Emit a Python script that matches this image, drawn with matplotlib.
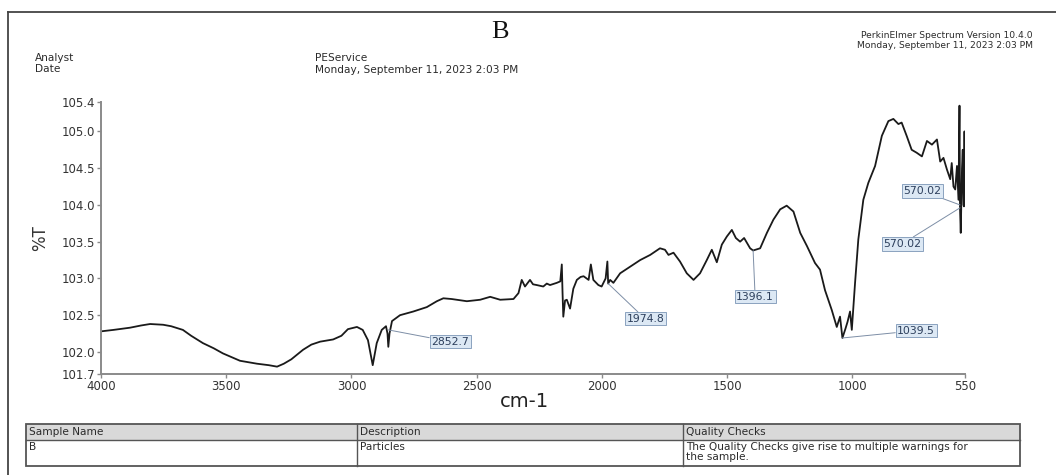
import matplotlib
matplotlib.use("Agg")
import matplotlib.pyplot as plt
from matplotlib.patches import Rectangle

plt.rcParams['font.family'] = ['DejaVu Sans']

# FT-IR spectrum of sample B (wavenumber in cm-1, transmittance in %T)
wavenumber = [
    4000, 3950, 3884, 3840, 3804, 3752, 3720, 3673, 3640, 3593, 3550, 3513,
    3445, 3377, 3330, 3297, 3270, 3240, 3193, 3160, 3125, 3090, 3073, 3040,
    3014, 2978, 2955, 2934, 2922, 2915, 2908, 2899, 2879, 2862, 2856, 2852.7,
    2848, 2838, 2806, 2753, 2699, 2659, 2633, 2600, 2579, 2539, 2486, 2446,
    2406, 2353, 2333, 2320, 2307, 2287, 2275, 2260, 2234, 2220, 2207, 2180,
    2166, 2160, 2157, 2154, 2147, 2140, 2127, 2114, 2100, 2085, 2073, 2053,
    2044, 2034, 2014, 2001, 1985, 1978, 1974.8, 1967, 1954, 1927, 1887,
    1847, 1807, 1768, 1748, 1734, 1714, 1688, 1661, 1634, 1608, 1581, 1561,
    1541, 1521, 1501, 1481, 1465, 1448, 1432, 1408, 1396.1, 1368, 1341, 1315,
    1288, 1262, 1235, 1208, 1181, 1149, 1129, 1109, 1082, 1062, 1049, 1039.5,
    1027, 1019, 1009, 1002, 989, 976, 956, 936, 909, 882, 856, 836, 816, 803,
    783, 763, 743, 722, 702, 682, 662, 649, 636, 622, 609, 603, 596, 589, 582,
    576, 572, 570.02, 567, 562, 559, 556, 554, 552, 550,
]
transmittance = [
    102.28, 102.30, 102.33, 102.36, 102.38, 102.37, 102.35, 102.30, 102.22,
    102.12, 102.05, 101.98, 101.88, 101.84, 101.82, 101.80, 101.84, 101.90,
    102.03, 102.10, 102.14, 102.16, 102.17, 102.22, 102.31, 102.34, 102.30,
    102.16, 101.95, 101.82, 101.95, 102.12, 102.30, 102.35, 102.25, 102.07,
    102.25, 102.42, 102.50, 102.55, 102.61, 102.69, 102.73, 102.72, 102.71,
    102.69, 102.71, 102.75, 102.71, 102.72, 102.80, 102.98, 102.89, 102.98,
    102.92, 102.91, 102.89, 102.93, 102.91, 102.94, 102.96, 103.19, 102.80,
    102.48, 102.70, 102.71, 102.59, 102.86, 102.98, 103.02, 103.03, 102.98,
    103.19, 102.98, 102.91, 102.89, 103.00, 103.23, 102.93, 102.98, 102.94,
    103.07, 103.16, 103.25, 103.32, 103.41, 103.39, 103.32, 103.35, 103.23,
    103.07, 102.98, 103.07, 103.25, 103.39, 103.22, 103.46, 103.57, 103.66,
    103.55, 103.50, 103.55, 103.41, 103.38, 103.41, 103.62, 103.80, 103.94,
    103.99, 103.91, 103.62, 103.44, 103.21, 103.12, 102.84, 102.57, 102.34,
    102.48, 102.19, 102.32, 102.41, 102.55, 102.30, 102.94, 103.53, 104.07,
    104.30, 104.53, 104.94, 105.14, 105.17, 105.10, 105.12, 104.94, 104.75,
    104.71, 104.66, 104.87, 104.82, 104.89, 104.59, 104.64, 104.48, 104.35,
    104.57, 104.25, 104.21, 104.53, 104.07, 105.35, 103.97, 103.62, 104.50,
    104.75, 104.00, 103.98, 105.00, 104.00,
]

# Peak labels: leader start on the trace and label centre, both in data units
peak_text = ["2852.7", "1974.8", "1396.1", "1039.5", "570.02", "570.02"]
peak_x = [2852.7, 1974.8, 1396.1, 1039.5, 570.02, 570.02]
peak_y = [102.30, 102.93, 103.38, 102.19, 104.00, 103.96]
label_x = [2606, 1827, 1388, 745, 721, 801]
label_y = [102.14, 102.45, 102.75, 102.29, 104.19, 103.47]

y_ticks = [101.7, 102.0, 102.5, 103.0, 103.5, 104.0, 104.5, 105.0, 105.4]
x_ticks = [4000, 3500, 3000, 2500, 2000, 1500, 1000, 550]

W, H = 1056, 475
fig = plt.figure(figsize=(W / 100, H / 100), dpi=100)
fig.patch.set_facecolor('white')

# page layer in pixel coordinates (header, frame, sample table)
page = fig.add_axes([0, 0, 1, 1], zorder=0)
page.set_xlim(0, W)
page.set_ylim(H, 0)
page.axis('off')

ink = '#2b2b2b'
page.plot([8, W], [12, 12], color='#444444', lw=1.3)
page.plot([8, 8], [12, H], color='#444444', lw=1.3)

page.text(500, 32, 'B', family=['Liberation Serif', 'DejaVu Serif'], fontsize=19,
          ha='center', va='center', color='#111111')
hdr_fs = 7.6
page.text(35, 58, 'Analyst', fontsize=hdr_fs, ha='left', va='center', color=ink)
page.text(35, 69, 'Date', fontsize=hdr_fs, ha='left', va='center', color=ink)
page.text(315, 58, 'PEService', fontsize=hdr_fs, ha='left', va='center', color=ink)
page.text(315, 70, 'Monday, September 11, 2023 2:03 PM', fontsize=hdr_fs,
          ha='left', va='center', color=ink)
page.text(1033, 36, 'PerkinElmer Spectrum Version 10.4.0', fontsize=6.6,
          ha='right', va='center', color=ink)
page.text(1033, 45, 'Monday, September 11, 2023 2:03 PM', fontsize=6.6,
          ha='right', va='center', color=ink)

# sample table
t_left, t_right, t_top, t_mid, t_bot = 26, 1020, 424, 440, 466
col2, col3 = 357, 683
page.add_patch(Rectangle((t_left, t_top), t_right - t_left, t_mid - t_top,
                         facecolor='#d9d9d9', edgecolor='none'))
page.add_patch(Rectangle((t_left, t_top), t_right - t_left, t_bot - t_top,
                         facecolor='none', edgecolor='#555555', lw=1.3))
page.plot([t_left, t_right], [t_mid, t_mid], color='#555555', lw=1.0)
page.plot([col2, col2], [t_top, t_bot], color='#555555', lw=1.0)
page.plot([col3, col3], [t_top, t_bot], color='#555555', lw=1.0)
cell_fs = 7.6
page.text(t_left + 3, 432, 'Sample Name', fontsize=cell_fs, va='center', color=ink)
page.text(col2 + 3, 432, 'Description', fontsize=cell_fs, va='center', color=ink)
page.text(col3 + 3, 432, 'Quality Checks', fontsize=cell_fs, va='center', color=ink)
page.text(t_left + 3, 447, 'B', fontsize=cell_fs, va='center', color=ink)
page.text(col2 + 3, 447, 'Particles', fontsize=cell_fs, va='center', color=ink)
page.text(col3 + 3, 447, 'The Quality Checks give rise to multiple warnings for',
          fontsize=cell_fs, va='center', color=ink)
page.text(col3 + 3, 457, 'the sample.', fontsize=cell_fs, va='center', color=ink)

# spectrum axes
ax_l, ax_r, ax_t, ax_b = 101, 965, 102, 374
ax = fig.add_axes([ax_l / W, 1 - ax_b / H, (ax_r - ax_l) / W, (ax_b - ax_t) / H],
                  zorder=1)
ax.set_facecolor('none')
ax.plot(wavenumber, transmittance, color='#1a1a1a', lw=1.3)
ax.set_xlim(4000, 550)
ax.set_ylim(101.7, 105.4)
ax.set_xticks(x_ticks)
ax.set_xticklabels([str(v) for v in x_ticks])
ax.set_yticks(y_ticks)
ax.set_yticklabels([f'{v:.1f}' for v in y_ticks])
for side in ('top', 'right'):
    ax.spines[side].set_visible(False)
for side in ('left', 'bottom'):
    ax.spines[side].set_color('#8a8a8a')
    ax.spines[side].set_linewidth(1.4)
ax.tick_params(axis='both', direction='out', length=3, width=1, color='#8a8a8a',
               labelsize=8.5, labelcolor='#333333', pad=1)
ax.set_ylabel('%T', fontsize=12, color='#333333', labelpad=9)
ax.set_xlabel('cm-1', fontsize=14, color='#222222', labelpad=0)
ax.xaxis.set_label_coords(0.49, -0.065)

for txt, px, py, lx, ly in zip(peak_text, peak_x, peak_y, label_x, label_y):
    ax.annotate(txt, xy=(px, py), xytext=(lx, ly), textcoords='data',
                fontsize=7.8, color='#2d3f5c', ha='center', va='center',
                bbox=dict(boxstyle='square,pad=0.15', facecolor='#dce8f4',
                          edgecolor='#8aa2bf', lw=0.7),
                arrowprops=dict(arrowstyle='-', color='#7d8ea6', lw=0.7,
                                shrinkA=0, shrinkB=0))

fig.savefig('out.png', dpi=100, facecolor='white')
